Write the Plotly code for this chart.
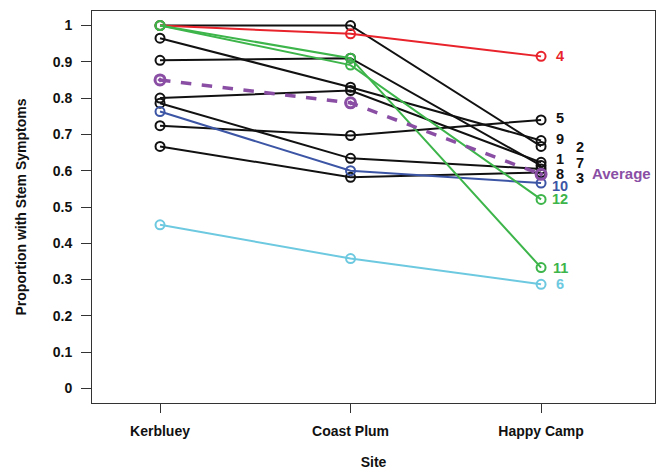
import plotly.graph_objects as go

sites = ["Kerbluey", "Coast Plum", "Happy Camp"]
site_pos = [0, 1, 2]

series_names = ["1", "2", "3", "4", "5", "6", "7", "8", "9", "10", "11", "12"]
s1 = [0.800, 0.821, 0.623]
s2 = [1.000, 1.000, 0.667]
s3 = [0.667, 0.582, 0.595]
s4 = [1.000, 0.977, 0.915]
s5 = [0.724, 0.697, 0.740]
s6 = [0.451, 0.358, 0.287]
s7 = [0.904, 0.910, 0.614]
s8 = [0.786, 0.634, 0.605]
s9 = [0.965, 0.830, 0.683]
s10 = [0.763, 0.600, 0.566]
s11 = [1.000, 0.910, 0.333]
s12 = [1.000, 0.891, 0.521]
average = [0.850, 0.787, 0.590]

# label vertical positions next to the Happy Camp end (data units)
label_y = [0.631, 0.664, 0.581, 0.915, 0.744, 0.287, 0.620, 0.592, 0.686, 0.559, 0.333, 0.521]
label_x = [2.10, 2.205, 2.205, 2.10, 2.10, 2.10, 2.205, 2.10, 2.10, 2.10, 2.10, 2.10]
avg_label_y = 0.592

yticks = [0, 0.1, 0.2, 0.3, 0.4, 0.5, 0.6, 0.7, 0.8, 0.9, 1]
yticktext = ["0", "0.1", "0.2", "0.3", "0.4", "0.5", "0.6", "0.7", "0.8", "0.9", "1"]

BLACK = "#111111"
RED = "#E8232B"
GREEN = "#3DB54A"
BLUE = "#3C55A5"
CYAN = "#6DC9E0"
PURPLE = "#8A4FA5"
colors = [BLACK, BLACK, BLACK, RED, BLACK, CYAN, BLACK, BLACK, BLACK, BLUE, GREEN, GREEN]
all_series = [s1, s2, s3, s4, s5, s6, s7, s8, s9, s10, s11, s12]

FONT = "Liberation Sans, Arial, sans-serif"

fig = go.Figure()
# draw black series first, then coloured ones on top
order = [i for i in range(12) if colors[i] == BLACK] + [i for i in range(12) if colors[i] != BLACK]
for i in order:
    fig.add_trace(go.Scatter(
        x=site_pos, y=all_series[i], mode="lines+markers", name=series_names[i],
        line=dict(color=colors[i], width=2),
        marker=dict(symbol="circle-open", size=9, color=colors[i], line=dict(width=2, color=colors[i])),
        showlegend=False,
    ))
fig.add_trace(go.Scatter(
    x=site_pos, y=average, mode="lines+markers", name="Average",
    line=dict(color=PURPLE, width=3.5, dash="dash"),
    marker=dict(symbol="circle-open-dot", size=10, color=PURPLE, line=dict(width=3, color=PURPLE)),
    showlegend=False,
))

for i in range(12):
    fig.add_annotation(x=label_x[i], y=label_y[i], xref="x", yref="y", text=series_names[i],
                       showarrow=False, xanchor="center", yanchor="middle",
                       font=dict(family=FONT, size=14.5, color=colors[i], weight="bold"))
fig.add_annotation(x=2.257, y=avg_label_y, xref="x", yref="y", text="Average",
                   showarrow=False, xanchor="left", yanchor="middle",
                   font=dict(family=FONT, size=15, color=PURPLE, weight="bold"))

fig.update_layout(
    width=658, height=470,
    margin=dict(l=92, r=3, t=11, b=67),
    paper_bgcolor="white", plot_bgcolor="white",
    font=dict(family=FONT, size=14, color="#111111", weight="bold"),
    xaxis=dict(
        range=[-0.357, 2.598], tickvals=site_pos, ticktext=sites, automargin=False,
        showgrid=False, zeroline=False, showline=True, mirror=True,
        linecolor="#333333", linewidth=1, ticks="outside", ticklen=9, tickcolor="#333333",
        ticklabelstandoff=6,
        tickfont=dict(family=FONT, size=14, weight="bold"),
        title=dict(text="Site", font=dict(family=FONT, size=14, weight="bold"), standoff=24),
    ),
    yaxis=dict(
        range=[-0.04, 1.04], tickvals=yticks, ticktext=yticktext, automargin=False,
        showgrid=False, zeroline=False, showline=True, mirror=True,
        linecolor="#333333", linewidth=1, ticks="outside", ticklen=10, tickcolor="#333333",
        ticklabelstandoff=6,
        tickfont=dict(family=FONT, size=14, weight="bold"),
        title=dict(text="Proportion with Stem Symptoms", font=dict(family=FONT, size=14, weight="bold"), standoff=22),
    ),
)

fig.write_html("out.html", config={"displayModeBar": False},
               post_script="document.body.style.margin='0';")
